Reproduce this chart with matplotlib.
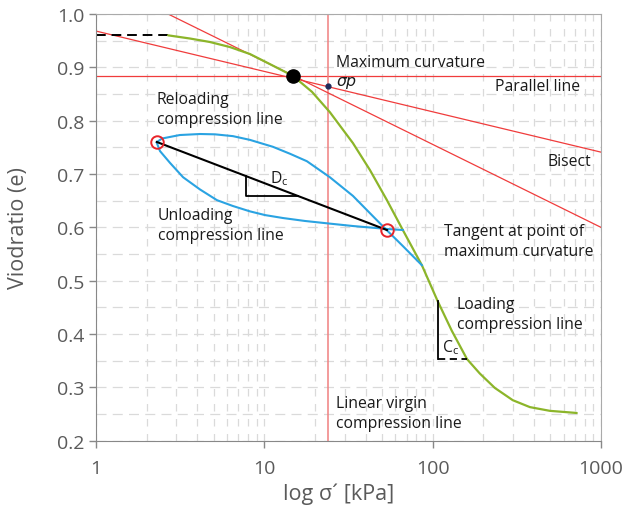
import matplotlib
matplotlib.use("Agg")
import matplotlib.pyplot as plt
from matplotlib.ticker import FixedLocator, NullFormatter

plt.rcParams['font.family'] = ['Open Sans', 'DejaVu Sans']

# loading (virgin) compression curve
load_x = [2.68, 3.62, 4.75, 6.25, 8.21, 10.8, 14.8, 19.2, 24.5, 33.6, 42.4, 53.5,
          66.5, 86.3, 107, 130, 160, 190.6, 234, 299, 378, 497, 718]
load_y = [0.960, 0.954, 0.9475, 0.938, 0.925, 0.906, 0.884, 0.854, 0.816, 0.758,
          0.7075, 0.651, 0.595, 0.529, 0.462, 0.406, 0.353, 0.326, 0.299, 0.276,
          0.263, 0.256, 0.252]

# reloading branch
reload_x = [2.30, 2.47, 3.15, 4.15, 5.09, 6.51, 8.21, 11.25, 14.2, 17.9, 24.5,
            33.6, 50.6, 66.5, 86.3]
reload_y = [0.760, 0.7666, 0.7731, 0.775, 0.7744, 0.771, 0.764, 0.751, 0.738,
            0.724, 0.694, 0.659, 0.602, 0.565, 0.529]

# unloading branch
unload_x = [66.5, 53.5, 33.6, 24.5, 17.4, 12.9, 10.1, 8.21, 6.51, 5.23, 4.15,
            3.29, 2.75, 2.40, 2.30]
unload_y = [0.595, 0.597, 0.6025, 0.607, 0.612, 0.6175, 0.623, 0.630, 0.640,
            0.651, 0.671, 0.694, 0.721, 0.743, 0.758]

# loop end points and Dc line
loop_x = [2.30, 53.5]
loop_y = [0.760, 0.595]

# construction lines (Casagrande)
tangent_x = [2.68, 1000]
tangent_y = [1.0, 0.600]
bisect_x = [1, 1000]
bisect_y = [0.968, 0.741]
parallel_y = 0.884
sigma_p = 24
sigma_p_e = 0.865
maxcurv = (14.8, 0.884)

dc_x = [7.78, 7.78, 15.8]
dc_y = [0.696, 0.659, 0.659]
cc_x = [107, 107]
cc_y = [0.462, 0.353]
cc_dash_x = [107, 160]
start_x = [1, 2.68]
start_y = 0.960

red = '#f03c3c'
green = '#8cb52a'
blue = '#2aa3e2'
gray = '#5a5a5a'

fig = plt.figure(figsize=(6.27, 5.10), dpi=100)
ax = fig.add_axes([0.1531, 0.1339, 0.8054, 0.8367])
ax.set_xscale('log')
ax.set_xlim(1, 1000)
ax.set_ylim(0.2, 1.0)

# grid
ax.xaxis.set_minor_locator(FixedLocator([m * 10 ** d for d in range(3) for m in range(2, 10)]))
ax.xaxis.set_minor_formatter(NullFormatter())
ax.yaxis.set_minor_locator(FixedLocator([0.25, 0.35, 0.45, 0.55, 0.65, 0.75, 0.85, 0.95]))
ax.grid(True, which='both', axis='y', color='#dadada', linestyle=(0, (8, 5)), linewidth=0.9)
ax.grid(True, which='both', axis='x', color='#dadada', linestyle=(0, (6, 6)), linewidth=0.9)
ax.set_axisbelow(True)

# red construction lines
ax.axhline(parallel_y, color=red, lw=0.9)
ax.axvline(sigma_p, color='#f08080', lw=1.1)
ax.plot(tangent_x, tangent_y, color=red, lw=0.9)
ax.plot(bisect_x, bisect_y, color=red, lw=0.9)

# curves
ax.plot(start_x, [start_y, start_y], color='black', lw=1.4, dashes=(5, 3))
ax.plot(load_x, load_y, color=green, lw=1.6, solid_capstyle='round', solid_joinstyle='round')
ax.plot(reload_x, reload_y, color=blue, lw=1.5, solid_joinstyle='round')
ax.plot(unload_x, unload_y, color=blue, lw=1.5, solid_joinstyle='round')
ax.plot(loop_x, loop_y, color='black', lw=1.5)
ax.plot(dc_x, dc_y, color='black', lw=1.3)
ax.plot(cc_x, cc_y, color='black', lw=1.3)
ax.plot(cc_dash_x, [cc_y[1], cc_y[1]], color='black', lw=1.3, dashes=(4, 2.5))

ax.plot(loop_x, loop_y, 'o', ms=9, mfc='none', mec='#e8242a', mew=1.4)
ax.plot(*maxcurv, 'o', ms=9.5, color='black')
ax.plot(sigma_p, sigma_p_e, 'o', ms=3.5, color='#1f2a5a')

# labels
fs = 11.3
tc = '#1a1a1a'
ls = 1.3
ax.text(26.5, 0.910, 'Maximum curvature', fontsize=fs, color=tc, va='center')
ax.text(26.5, 0.873, r'$\sigma p$', fontsize=fs, color=tc, va='center')
ax.text(236, 0.865, 'Parallel line', fontsize=fs, color=tc, va='center')
ax.text(482, 0.724, 'Bisect', fontsize=fs, color=tc, va='center')
ax.text(116, 0.574, 'Tangent at point of\nmaximum curvature', fontsize=fs, color=tc,
        va='center', linespacing=ls)
ax.text(139, 0.4375, 'Loading\ncompression line', fontsize=fs, color=tc, va='center',
        linespacing=ls)
ax.text(113, 0.377, r'C$_\mathregular{c}$', fontsize=fs, color=tc, va='center')
ax.text(26.6, 0.252, 'Linear virgin\ncompression line', fontsize=fs, color=tc, va='center',
        linespacing=ls)
ax.text(2.30, 0.822, 'Reloading\ncompression line', fontsize=fs, color=tc, va='center',
        linespacing=ls)
ax.text(2.32, 0.604, 'Unloading\ncompression line', fontsize=fs, color=tc, va='center',
        linespacing=ls)
ax.text(10.8, 0.694, r'D$_\mathregular{c}$', fontsize=fs, color=tc, va='center')

# axes styling
ax.set_xticks([1, 10, 100, 1000])
ax.set_xticklabels(['1', '10', '100', '1000'])
ax.set_yticks([0.2, 0.3, 0.4, 0.5, 0.6, 0.7, 0.8, 0.9, 1.0])
ax.set_yticklabels(['0.2', '0.3', '0.4', '0.5', '0.6', '0.7', '0.8', '0.9', '1.0'])
ax.tick_params(which='major', length=5, width=1, color='#888888', labelsize=14,
               labelcolor=gray)
ax.tick_params(axis='x', pad=8)
ax.tick_params(which='minor', length=0)
for s in ['left', 'bottom']:
    ax.spines[s].set_color('#888888')
for s in ['top', 'right']:
    ax.spines[s].set_color('#aaaaaa')

ax.set_xlabel('log σ´ [kPa]', fontsize=15.5, color=gray)
ax.set_ylabel('Viodratio (e)', fontsize=15.5, color=gray)
ax.xaxis.set_label_coords(0.481, -0.098)
ax.yaxis.set_label_coords(-0.133, 0.5)

fig.savefig('out.png', dpi=100)
